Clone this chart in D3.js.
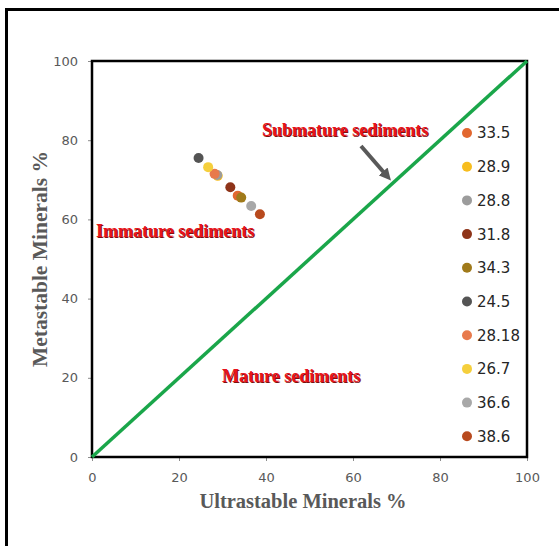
<!DOCTYPE html>
<meta charset="utf-8">
<title>Ultrastable vs Metastable Minerals</title>
<style>
    body { margin: 0; background: #fff; }
    .tick text { font-family: "DejaVu Sans", sans-serif; font-size: 13px; fill: #595959; }
    .tick line { stroke: #8c8c8c; }
    .axis-title { font-family: "Liberation Serif", serif; font-weight: bold; font-size: 20.5px; fill: #595959; }
    .zone { font-family: "Liberation Serif", serif; font-weight: bold; font-size: 18px; fill: #e8141b; }
    .legend text { font-family: "DejaVu Sans", sans-serif; font-size: 15px; fill: #262626; }
</style>

<svg width="559" height="546"></svg>

<script src="https://d3js.org/d3.v7.min.js"></script>
<script>

    // series names (ultrastable %) in legend order
    var names = ["33.5", "28.9", "28.8", "31.8", "34.3", "24.5", "28.18", "26.7", "36.6", "38.6"];
    var ultra = [33.5, 28.9, 28.8, 31.8, 34.3, 24.5, 28.18, 26.7, 36.6, 38.6];
    var meta = [66.0, 71.0, 71.2, 68.1, 65.5, 75.5, 71.5, 73.2, 63.4, 61.3];
    var colors = ["#e2672f", "#f7bd1e", "#9c9c9c", "#8e3419", "#a07a1a", "#545454",
                  "#e87a4c", "#f5cf3c", "#a8a8a8", "#b84a1e"];
    var ticks = [0, 20, 40, 60, 80, 100];

    var svg = d3.select("svg");

    // outer frame (only top and left edges visible)
    svg.append("rect")
        .attr("x", 6.5).attr("y", 9.5)
        .attr("width", 700).attr("height", 700)
        .attr("fill", "none")
        .attr("stroke", "#000")
        .attr("stroke-width", 3);

    var x = d3.scaleLinear().domain([0, 100]).range([92, 527]);
    var y = d3.scaleLinear().domain([0, 100]).range([457, 61]);

    svg.append("g")
        .attr("transform", "translate(0," + y(0) + ")")
        .call(d3.axisBottom(x).tickValues(ticks).tickSize(4).tickPadding(12))
        .call(function (g) { g.select(".domain").remove(); });

    svg.append("g")
        .attr("transform", "translate(" + x(0) + ",0)")
        .call(d3.axisLeft(y).tickValues(ticks).tickSize(4).tickPadding(10))
        .call(function (g) { g.select(".domain").remove(); });

    // plot border
    svg.append("rect")
        .attr("x", x(0)).attr("y", y(100))
        .attr("width", x(100) - x(0)).attr("height", y(0) - y(100))
        .attr("fill", "none")
        .attr("stroke", "#000")
        .attr("stroke-width", 2.5);

    // 1:1 line
    svg.append("line")
        .attr("x1", x(0)).attr("y1", y(0))
        .attr("x2", x(100)).attr("y2", y(100))
        .attr("stroke", "#1aa64a")
        .attr("stroke-width", 3.5);

    // points
    svg.append("g")
        .selectAll("circle")
        .data(names)
        .enter().append("circle")
        .attr("cx", function (d, i) { return x(ultra[i]); })
        .attr("cy", function (d, i) { return y(meta[i]); })
        .attr("r", 5)
        .attr("fill", function (d, i) { return colors[i]; });

    // axis titles
    svg.append("text")
        .attr("class", "axis-title")
        .attr("x", 303).attr("y", 508)
        .attr("text-anchor", "middle")
        .text("Ultrastable Minerals %");

    svg.append("text")
        .attr("class", "axis-title")
        .attr("transform", "translate(47,259) rotate(-90)")
        .attr("text-anchor", "middle")
        .style("font-size", "21.5px")
        .text("Metastable Minerals %");

    // zone labels
    var zones = [
        { t: "Submature sediments", x: 262, y: 136 },
        { t: "Immature sediments", x: 96, y: 237 },
        { t: "Mature sediments", x: 222, y: 382 }
    ];
    svg.selectAll(".zone")
        .data(zones)
        .enter().append("text")
        .attr("class", "zone")
        .attr("x", function (d) { return d.x; })
        .attr("y", function (d) { return d.y; })
        .style("text-shadow", "1px 1px 0 #7a1010")
        .text(function (d) { return d.t; });

    // arrow
    var defs = svg.append("defs");
    defs.append("marker")
        .attr("id", "arrow")
        .attr("viewBox", "0 0 10 10")
        .attr("refX", 5).attr("refY", 5)
        .attr("markerWidth", 3).attr("markerHeight", 3)
        .attr("orient", "auto")
        .append("path")
        .attr("d", "M0,0 L10,5 L0,10 Z")
        .attr("fill", "#595959");

    svg.append("line")
        .attr("x1", 361).attr("y1", 146)
        .attr("x2", 387).attr("y2", 176)
        .attr("stroke", "#595959")
        .attr("stroke-width", 4)
        .attr("marker-end", "url(#arrow)");

    // legend
    var legend = svg.append("g")
        .attr("class", "legend")
        .selectAll("g")
        .data(names)
        .enter().append("g")
        .attr("transform", function (d, i) { return "translate(467," + (133 + i * 33.7) + ")"; });

    legend.append("circle")
        .attr("r", 5)
        .attr("fill", function (d, i) { return colors[i]; });

    legend.append("text")
        .attr("x", 10)
        .attr("dy", "0.36em")
        .text(function (d) { return d; });

</script>
